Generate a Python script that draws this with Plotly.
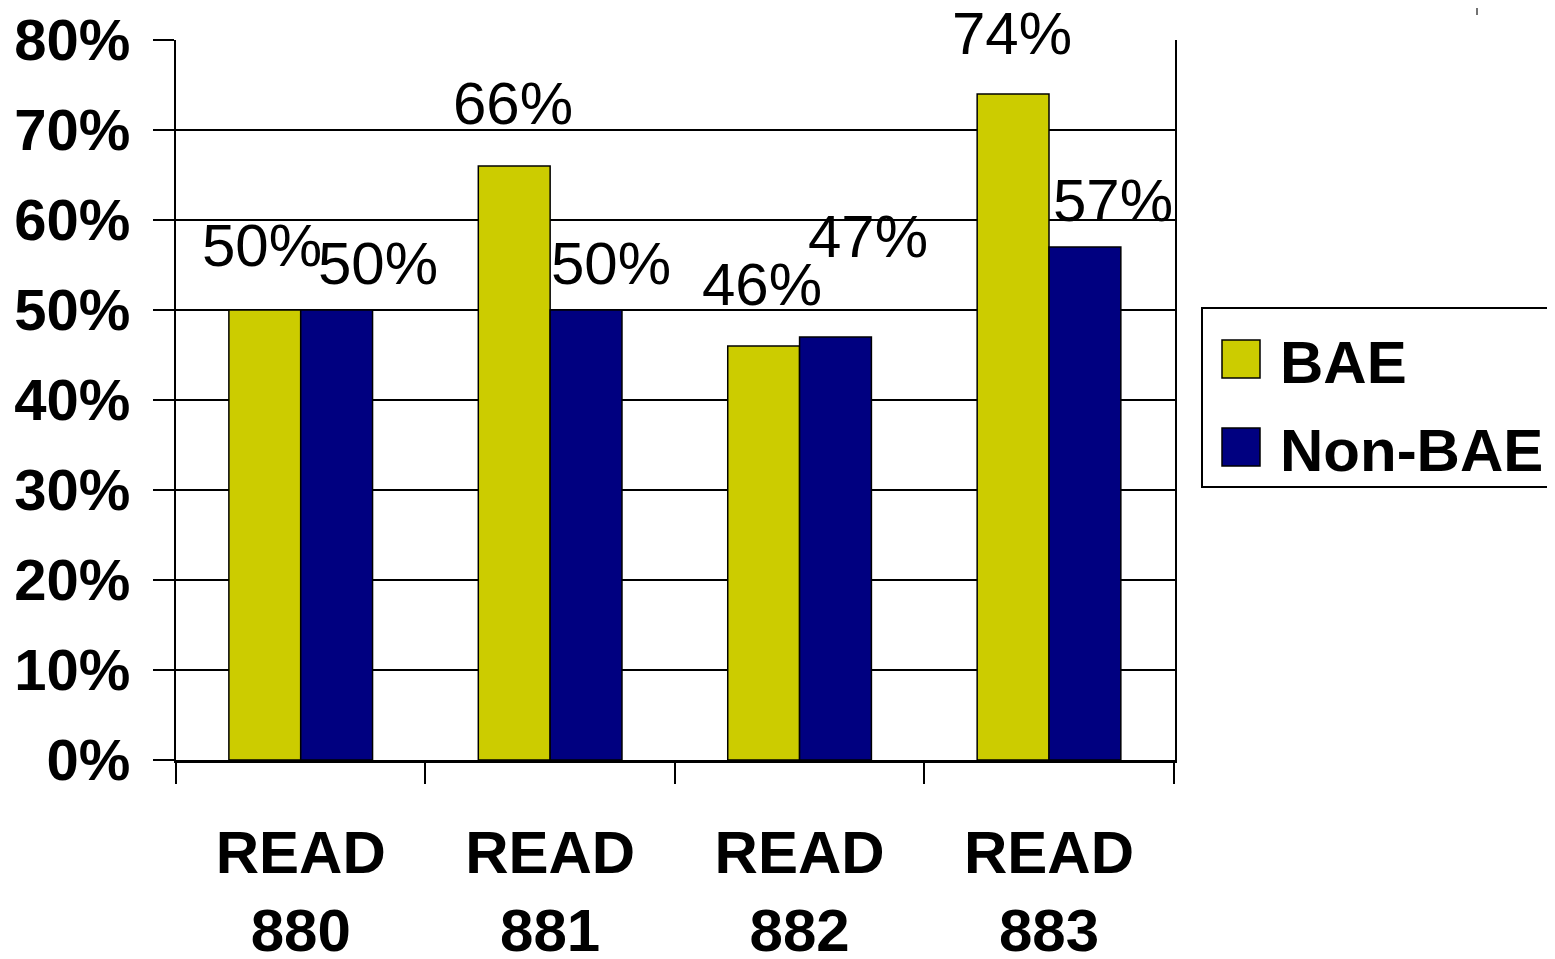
import plotly.graph_objects as go

categories = ["READ<br>880", "READ<br>881", "READ<br>882", "READ<br>883"]
bae = [0.50, 0.66, 0.46, 0.74]
non_bae = [0.50, 0.50, 0.47, 0.57]
y_ticks = [0, 0.1, 0.2, 0.3, 0.4, 0.5, 0.6, 0.7, 0.8]
y_tick_labels = ["0%", "10%", "20%", "30%", "40%", "50%", "60%", "70%", "80%"]

# label offsets in px relative to category centre / bar top (layout only)
bae_dx = [-39, -37, -38, -37]
bae_dy = [61, 59, 58, 57]
non_dx = [77, 61, 68, 64]
non_dy = [43, 43, 97, 43]

FONT = "Arial, Liberation Sans, sans-serif"
C_BAE = "#CCCC00"
C_NON = "#000080"

fig = go.Figure()
fig.add_trace(go.Bar(x=categories, y=bae, name="BAE", marker=dict(color=C_BAE, line=dict(color="black", width=1.5)), showlegend=False))
fig.add_trace(go.Bar(x=categories, y=non_bae, name="Non-BAE", marker=dict(color=C_NON, line=dict(color="black", width=1.5)), showlegend=False))

anns = []
for i, c in enumerate(categories):
    anns.append(dict(x=c, y=bae[i], xref="x", yref="y", text=f"{round(bae[i]*100)}%", showarrow=False,
                     xshift=bae_dx[i], yshift=bae_dy[i] + 4, yanchor="middle",
                     font=dict(family=FONT, size=60, color="black")))
    anns.append(dict(x=c, y=non_bae[i], xref="x", yref="y", text=f"{round(non_bae[i]*100)}%", showarrow=False,
                     xshift=non_dx[i], yshift=non_dy[i] + 4, yanchor="middle",
                     font=dict(family=FONT, size=60, color="black")))

# manual legend (positions in page pixels converted to paper coords)
def px_x(p):
    return (p - 176) / 999.0

def px_y(p):
    return (760 - p) / 720.0

shapes = [
    dict(type="rect", xref="paper", yref="paper", x0=px_x(1202), x1=px_x(1554), y0=px_y(487), y1=px_y(308),
         line=dict(color="black", width=2), fillcolor="white"),
    dict(type="rect", xref="paper", yref="paper", x0=px_x(1222), x1=px_x(1260), y0=px_y(378), y1=px_y(340),
         line=dict(color="black", width=1.5), fillcolor=C_BAE),
    dict(type="rect", xref="paper", yref="paper", x0=px_x(1222), x1=px_x(1260), y0=px_y(466), y1=px_y(428),
         line=dict(color="black", width=1.5), fillcolor=C_NON),
    dict(type="line", xref="paper", yref="paper", x0=px_x(1477), x1=px_x(1477), y0=px_y(8), y1=px_y(15),
         line=dict(color="#444", width=1.5)),
]
anns.append(dict(x=px_x(1278), y=px_y(362), xref="paper", yref="paper", text="<b>BAE</b>", showarrow=False,
                 xanchor="left", yanchor="middle", font=dict(family=FONT, size=60, color="black")))
anns.append(dict(x=px_x(1278), y=px_y(450), xref="paper", yref="paper", text="<b>Non-BAE</b>", showarrow=False,
                 xanchor="left", yanchor="middle", font=dict(family=FONT, size=60, color="black")))

# page has an 8px body margin, so the figure is made 8px smaller and shifted
fig.update_layout(
    width=1547, height=951,
    margin=dict(l=168, r=380, t=32, b=199, autoexpand=False),
    paper_bgcolor="white", plot_bgcolor="white",
    barmode="group", bargap=0.424, bargroupgap=0,
    annotations=anns, shapes=shapes,
    font=dict(family=FONT, color="black"),
)
fig.update_yaxes(range=[0, 0.8], tickvals=y_ticks, ticktext=y_tick_labels, automargin=False,
                 showgrid=True, gridcolor="black", gridwidth=2,
                 showline=True, linecolor="black", linewidth=2, mirror=True,
                 ticks="outside", ticklen=21, tickwidth=2, tickcolor="black",
                 ticklabelstandoff=11, ticklabeloverflow="allow",
                 tickfont=dict(family=FONT, size=58, color="black", weight="bold"), zeroline=False)
fig.update_xaxes(showline=True, linecolor="black", linewidth=3, mirror=False, automargin=False,
                 ticks="outside", ticklen=21, tickwidth=2, tickcolor="black", tickson="boundaries",
                 ticklabelstandoff=38, ticklabeloverflow="allow",
                 tickfont=dict(family=FONT, size=60, color="black", weight="bold"))

fig.write_html("out.html")
